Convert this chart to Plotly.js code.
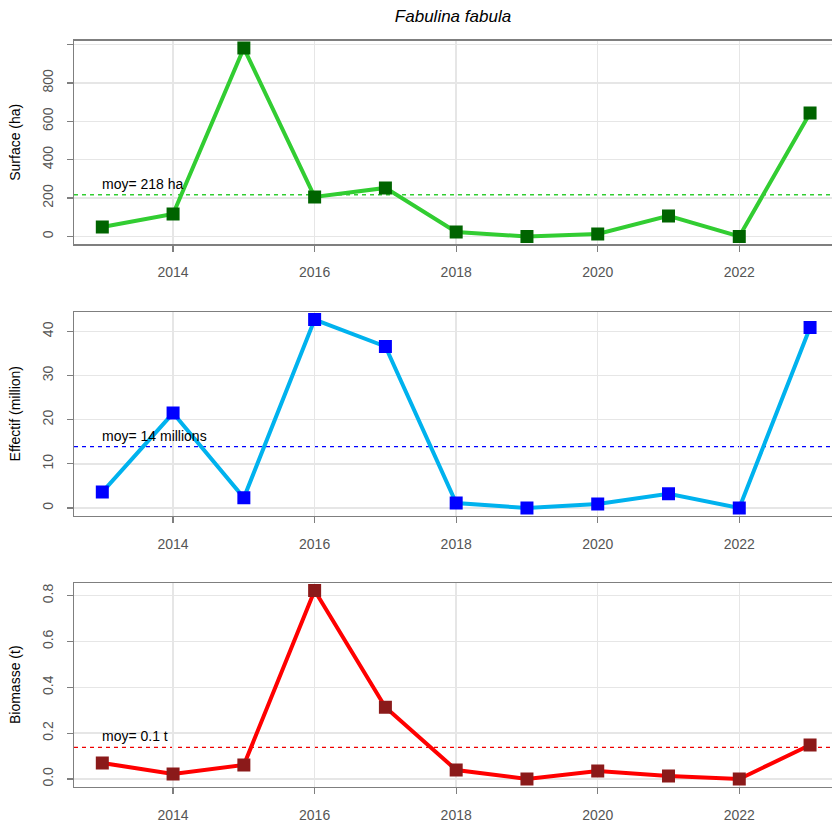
<!DOCTYPE html>
<html>
<head>
<meta charset="utf-8">
<script src="https://cdn.plot.ly/plotly-3.0.1.min.js"></script>
<style>html,body{margin:0;padding:0;background:#fff;}#chart{width:832px;height:823px;}</style>
</head>
<body>
<div id="chart"></div>
<script>
const years = [2013, 2014, 2015, 2016, 2017, 2018, 2019, 2020, 2021, 2022, 2023];
const surface = [49, 117, 982, 206, 253, 23, 0, 13, 107, 0, 643];
const effectif = [3.6, 21.5, 2.3, 42.7, 36.6, 1.1, 0, 0.9, 3.2, 0, 40.9];
const biomasse = [0.070, 0.022, 0.061, 0.822, 0.313, 0.039, 0, 0.035, 0.013, 0, 0.148];
const meanValues = [217.5, 13.9, 0.138];
const meanLabels = ["moy= 218 ha", "moy= 14 millions", "moy= 0.1 t"];
const yTitles = ["Surface (ha)", "Effectif (million)", "Biomasse (t)"];
const xTickVals = [2014, 2016, 2018, 2020, 2022];
const yTickVals = [[0, 200, 400, 600, 800, 1000], [0, 10, 20, 30, 40], [0, 0.2, 0.4, 0.6, 0.8]];
const yTickText = [["0", "200", "400", "600", "800", ""], ["0", "10", "20", "30", "40"], ["0.0", "0.2", "0.4", "0.6", "0.8"]];
const chartTitle = "Fabulina fabula";

const series = [surface, effectif, biomasse];
const lineColors = ["#32CD32", "#00B2EE", "#FF0000"];
const markerColors = ["#006400", "#0000FF", "#8B1A1A"];
const meanColors = ["#32CD32", "#0000FF", "#EE0000"];

const H = 823;
const panels = [[40.5, 244], [312, 515.5], [583, 786.5]];

function ext(arr) {
  const mn = Math.min(...arr), mx = Math.max(...arr);
  const d = (mx - mn) * 0.04;
  return [mn - d, mx + d];
}

const font = "Liberation Sans, Arial, Helvetica, sans-serif";
const traces = [];
const layout = {
  width: 832, height: 823,
  margin: {l: 74, r: 0, t: 0, b: 0},
  paper_bgcolor: "#ffffff", plot_bgcolor: "#ffffff",
  showlegend: false,
  font: {family: font, size: 14, color: "#000"},
  title: {text: "<i>" + chartTitle + "</i>", x: 0.5, xref: "paper", y: 1 - 16 / H, yref: "container", yanchor: "middle", font: {family: font, size: 17, color: "#000"}},
  shapes: [], annotations: []
};

for (let i = 0; i < 3; i++) {
  const sfx = i === 0 ? "" : String(i + 1);
  const xa = "x" + sfx, ya = "y" + sfx;
  traces.push({
    x: years, y: series[i], xaxis: xa, yaxis: ya, type: "scatter", mode: "lines+markers",
    line: {color: lineColors[i], width: 4},
    marker: {symbol: "square", size: 13, color: markerColors[i]},
    hoverinfo: "x+y"
  });
  const dom = [1 - panels[i][1] / H, 1 - panels[i][0] / H];
  layout["xaxis" + sfx] = {
    domain: [0, 1], anchor: ya, range: [2012.6, 2023.31],
    tickvals: xTickVals, ticks: "outside", ticklen: 6, tickwidth: 1.2, tickcolor: "#7f7f7f",
    ticklabelstandoff: 9,
    tickfont: {family: font, size: 14, color: "#555555"},
    showgrid: true, gridcolor: "#e6e6e6", gridwidth: 1.5,
    showline: true, linecolor: "#7f7f7f", linewidth: 1.5, mirror: true,
    zeroline: false, fixedrange: true
  };
  layout["yaxis" + sfx] = {
    domain: dom, anchor: xa, range: ext(series[i]),
    tickvals: yTickVals[i], ticktext: yTickText[i], tickangle: -90,
    ticks: "outside", ticklen: 6, tickwidth: 1.2, tickcolor: "#7f7f7f",
    ticklabelstandoff: 8,
    tickfont: {family: font, size: 14, color: "#555555"},
    showgrid: true, gridcolor: "#e6e6e6", gridwidth: 1.5,
    showline: true, linecolor: "#7f7f7f", linewidth: 1.5,
    zeroline: false, fixedrange: true,
    title: {text: yTitles[i], font: {family: font, size: 14, color: "#000"}, standoff: 16}
  };
  layout.shapes.push({
    type: "line", xref: xa + " domain", yref: ya, x0: 0, x1: 1, y0: meanValues[i], y1: meanValues[i],
    line: {color: meanColors[i], width: 1.3, dash: "4px,4px"}, layer: "below"
  });
  layout.annotations.push({
    xref: xa, yref: ya, x: years[0], y: meanValues[i], xanchor: "left", yanchor: "bottom",
    text: meanLabels[i], showarrow: false, yshift: 1, xshift: -2,
    font: {family: font, size: 14, color: "#000"}
  });
}

Plotly.newPlot("chart", traces, layout, {displayModeBar: false, staticPlot: true});
</script>
</body>
</html>
